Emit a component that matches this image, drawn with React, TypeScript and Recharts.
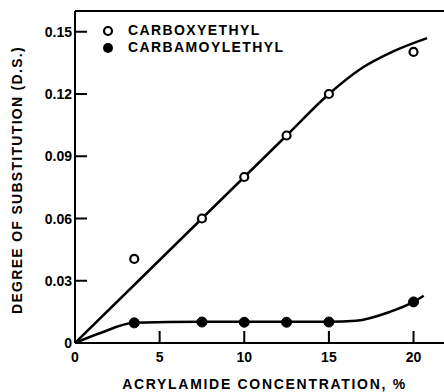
import React from 'react';
import { LineChart, Line, XAxis, YAxis, ReferenceLine } from 'recharts';

// measured points
const concentrations = [3.5, 7.5, 10, 12.5, 15, 20];
const carboxyethyl = [0.0405, 0.06, 0.08, 0.1, 0.12, 0.1403];
const carbamoylethyl = [0.0097, 0.0101, 0.01, 0.01, 0.0101, 0.0198];

// hand-drawn fit curves
const carboxyFitX = [0, 7.5, 12.5, 15, 16.8, 18.8, 20.8];
const carboxyFitY = [0, 0.06, 0.1, 0.12, 0.1317, 0.1405, 0.1469];
const carbamoylFitX = [0, 1.5, 3.5, 7.5, 15, 16.6, 18.6, 20, 20.6];
const carbamoylFitY = [0, 0.0048, 0.0097, 0.0102, 0.0102, 0.0107, 0.015, 0.0198, 0.0228];

const xTicks = [0, 5, 10, 15, 20];
const yTicks = [0, 0.03, 0.06, 0.09, 0.12, 0.15];
const yTickLabels = ['0', '0.03', '0.06', '0.09', '0.12', '0.15'];

const seriesNames = ['CARBOXYETHYL', 'CARBAMOYLETHYL'];

const pts = (xs: number[], ys: number[]) => xs.map((x, i) => ({ x, y: ys[i] }));
const carboxyData = pts(concentrations, carboxyethyl);
const carbamoylData = pts(concentrations, carbamoylethyl);
const carboxyFit = pts(carboxyFitX, carboxyFitY);
const carbamoylFit = pts(carbamoylFitX, carbamoylFitY);

const FONT = '"Liberation Sans", Arial, sans-serif';

const XTick = (props: any) => {
  const { x, y, payload } = props;
  return (
    <g>
      {payload.value !== 0 && <line x1={x} y1={y} x2={x} y2={y - 12} stroke="#000" strokeWidth={2} />}
      <text x={x} y={y + 19} textAnchor="middle" fontFamily={FONT} fontWeight="bold" fontSize={14} fill="#000">
        {payload.value}
      </text>
    </g>
  );
};

const YTick = (props: any) => {
  const { x, y, payload } = props;
  const idx = yTicks.indexOf(payload.value);
  return (
    <g>
      {payload.value !== 0 && <line x1={x} y1={y} x2={x + 12} y2={y} stroke="#000" strokeWidth={2} />}
      <text x={x - 3} y={y + 5} textAnchor="end" fontFamily={FONT} fontWeight="bold" fontSize={14} fill="#000">
        {idx >= 0 ? yTickLabels[idx] : payload.value}
      </text>
    </g>
  );
};

const OpenDot = (props: any) => {
  const { cx, cy } = props;
  return <circle cx={cx} cy={cy} r={4} fill="#fff" stroke="#000" strokeWidth={2.2} />;
};
const FilledDot = (props: any) => {
  const { cx, cy } = props;
  return <circle cx={cx} cy={cy} r={5} fill="#000" stroke="#000" />;
};

const LegendBox = () => (
  <div
    style={{
      position: 'absolute',
      left: 100,
      top: 22,
      fontFamily: FONT,
      fontWeight: 'bold',
      fontSize: 14,
      lineHeight: '17px',
      color: '#000',
    }}
  >
    {seriesNames.map((n, i) => (
      <div key={n} style={{ display: 'flex', alignItems: 'center' }}>
        <svg width={20} height={14} style={{ marginRight: 8 }}>
          {i === 0 ? (
            <circle cx={8} cy={7} r={4} fill="#fff" stroke="#000" strokeWidth={2.2} />
          ) : (
            <circle cx={8} cy={7} r={5} fill="#000" />
          )}
        </svg>
        <span style={{ letterSpacing: 1.4 }}>{n}</span>
      </div>
    ))}
  </div>
);

export default function App() {
  return (
    <div style={{ position: 'absolute', left: 0, top: 0, width: 444, height: 392, background: '#fff' }}>
      <LineChart width={444} height={392} margin={{ top: 11, right: 0, bottom: 0, left: 0 }}>
        <XAxis
          type="number"
          dataKey="x"
          domain={[0, 21.8]}
          ticks={xTicks}
          tickSize={0}
          tickMargin={0}
          tickLine={false}
          tick={<XTick />}
          height={49}
          axisLine={{ stroke: '#000', strokeWidth: 2 }}
          allowDataOverflow
          label={{
            content: (p: any) => {
              const vb = p.viewBox;
              return (
                <text x={vb.x + vb.width / 2 + 5} y={vb.y + 46} textAnchor="middle" fontFamily={FONT} fontWeight="bold" fontSize={14} letterSpacing={1.7} fill="#000">
                  ACRYLAMIDE CONCENTRATION, %
                </text>
              );
            },
          }}
        />
        <YAxis
          type="number"
          dataKey="y"
          domain={[0, 0.16]}
          ticks={yTicks}
          tickSize={0}
          tickMargin={0}
          tickLine={false}
          tick={<YTick />}
          width={75}
          axisLine={{ stroke: '#000', strokeWidth: 2 }}
          allowDataOverflow
          label={{
            content: (p: any) => {
              const vb = p.viewBox;
              const cx = 17;
              const cy = vb.y + vb.height / 2 + 3;
              return (
                <text x={cx} y={cy} transform={`rotate(-90 ${cx} ${cy})`} textAnchor="middle" dominantBaseline="central" fontFamily={FONT} fontWeight="bold" fontSize={14} letterSpacing={1.3} fill="#000">
                  DEGREE OF SUBSTITUTION (D.S.)
                </text>
              );
            },
          }}
        />
        <ReferenceLine y={0.16} stroke="#000" strokeWidth={2} ifOverflow="visible" />
        <Line data={carboxyFit} dataKey="y" type="monotone" stroke="#000" strokeWidth={2.5} dot={false} isAnimationActive={false} legendType="none" />
        <Line data={carbamoylFit} dataKey="y" type="monotone" stroke="#000" strokeWidth={2.5} dot={false} isAnimationActive={false} legendType="none" />
        <Line data={carboxyData} dataKey="y" name={seriesNames[0]} stroke="none" dot={<OpenDot />} activeDot={false} isAnimationActive={false} />
        <Line data={carbamoylData} dataKey="y" name={seriesNames[1]} stroke="none" dot={<FilledDot />} activeDot={false} isAnimationActive={false} />
      </LineChart>
      <LegendBox />
    </div>
  );
}
